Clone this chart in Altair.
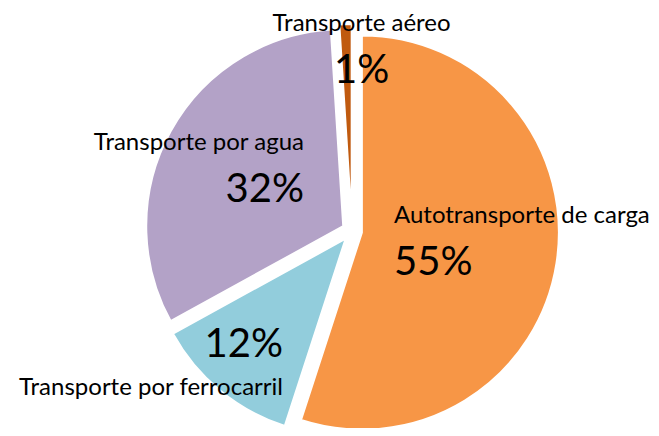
import altair as alt
import pandas as pd

# ---- data ----
categories = [
    "Autotransporte de carga",
    "Transporte por ferrocarril",
    "Transporte por agua",
    "Transporte aéreo",
]
shares = [55, 12, 32, 1]

# ---- style ----
colors = ["#F79646", "#92CDDC", "#B3A2C7", "#C05A0F"]
W, H = 643, 420           # plot area (page margin 8px)
CX, CY = 344, 223         # pie centre (pixels inside plot)
R = 197                   # pie radius
EXPLODE = 10              # slice explosion distance
FONT = "Lato"
NAME_SIZE = 24
PCT_SIZE = 40
GAP_ABOVE = 52            # name baseline above the percentage baseline
GAP_BELOW = 38            # name baseline below the percentage baseline

# label placement (Excel-like best fit): polar anchor from pie centre, alignment, name side
LABEL_LAYOUT = {
    "Autotransporte de carga": dict(ang=136.3, rad=60.8, align="left", side="above"),
    "Transporte por ferrocarril": dict(ang=208.7, rad=143.7, align="right", side="below"),
    "Transporte por agua": dict(ang=301.1, rad=56.1, align="right", side="above"),
    "Transporte aéreo": dict(ang=3.7, rad=148.5, align="center", side="above"),
}

df = pd.DataFrame({
    "category": categories,
    "share": shares,
    "order": list(range(len(categories))),
    "lang": [LABEL_LAYOUT[c]["ang"] for c in categories],
    "lrad": [LABEL_LAYOUT[c]["rad"] for c in categories],
    "align": [LABEL_LAYOUT[c]["align"] for c in categories],
    "side": [LABEL_LAYOUT[c]["side"] for c in categories],
})

base = (
    alt.Chart(df)
    .transform_window(cum="sum(share)", sort=[alt.SortField("order")], frame=[None, 0])
    .transform_joinaggregate(total="sum(share)")
    .transform_calculate(
        start="2*PI*(datum.cum - datum.share)/datum.total",
        end="2*PI*datum.cum/datum.total",
    )
    .transform_calculate(mid="(datum.start + datum.end)/2")
    .transform_calculate(
        cx=f"{CX} + {EXPLODE}*sin(datum.mid)",
        cy=f"{CY} - {EXPLODE}*cos(datum.mid)",
        lx=f"{CX} + datum.lrad*sin(datum.lang*PI/180)",
        ly=f"{CY} - datum.lrad*cos(datum.lang*PI/180)",
        pct="format(datum.share/datum.total, '.0%')",
    )
    .transform_calculate(
        ny=f"datum.side == 'above' ? datum.ly - {GAP_ABOVE} : datum.ly + {GAP_BELOW}"
    )
)

color = alt.Color(
    "category:N",
    scale=alt.Scale(domain=categories, range=colors),
    legend=None,
)

arcs = base.mark_arc(radius=R, stroke="white", strokeWidth=2).encode(
    x=alt.X("cx:Q", scale=None, axis=None),
    y=alt.Y("cy:Q", scale=None, axis=None),
    theta=alt.Theta("start:Q", scale=None),
    theta2="end:Q",
    color=color,
)

layers = [arcs]
for a in ["left", "center", "right"]:
    sub = base.transform_filter(f"datum.align == '{a}'")
    layers.append(
        sub.mark_text(align=a, baseline="alphabetic", font=FONT, fontSize=PCT_SIZE, color="black").encode(
            x=alt.X("lx:Q", scale=None, axis=None),
            y=alt.Y("ly:Q", scale=None, axis=None),
            text="pct:N",
        )
    )
    layers.append(
        sub.mark_text(align=a, baseline="alphabetic", font=FONT, fontSize=NAME_SIZE, color="black").encode(
            x=alt.X("lx:Q", scale=None, axis=None),
            y=alt.Y("ny:Q", scale=None, axis=None),
            text="category:N",
        )
    )

chart = (
    alt.layer(*layers)
    .properties(width=W, height=H, padding=0, autosize="none")
    .configure_view(stroke=None)
)

chart.save("out.html", embed_options={"renderer": "svg", "actions": False})
